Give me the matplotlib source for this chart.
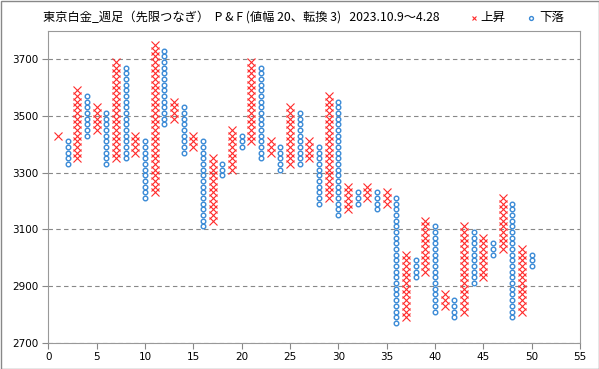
import matplotlib
matplotlib.use('Agg')
from matplotlib import pyplot as plt
from matplotlib.patches import Rectangle

plt.rcParams['font.family'] = ['Noto Sans CJK JP', 'DejaVu Sans']

# P&F columns: odd columns rise (X), even columns fall (O)
col_top = [3430, 3410, 3590, 3570, 3530, 3510, 3690, 3670, 3430, 3410,
           3750, 3730, 3550, 3530, 3430, 3410, 3350, 3330, 3450, 3430,
           3690, 3670, 3410, 3390, 3530, 3510, 3410, 3390, 3570, 3550,
           3250, 3230, 3250, 3230, 3230, 3210, 3010, 2990, 3130, 3110,
           2870, 2850, 3110, 3090, 3070, 3050, 3210, 3190, 3030, 3010]
col_bottom = [3430, 3330, 3350, 3430, 3450, 3330, 3350, 3350, 3370, 3210,
              3230, 3470, 3490, 3370, 3390, 3110, 3130, 3290, 3310, 3390,
              3410, 3350, 3370, 3310, 3330, 3330, 3350, 3190, 3210, 3150,
              3170, 3190, 3210, 3170, 3190, 2770, 2790, 2930, 2950, 2810,
              2830, 2790, 2810, 2910, 2930, 3010, 3030, 2790, 2810, 2970]
box = 20

title = '東京白金_週足（先限つなぎ）  P & F (値幅 20、転換 3)   2023.10.9～4.28'
x_ticks = list(range(0, 56, 5))
y_ticks = list(range(2700, 3701, 200))

red = '#ff2a2a'
blue = '#3a8ad6'

xs_up, ys_up, xs_dn, ys_dn = [], [], [], []
for i, (top, bot) in enumerate(zip(col_top, col_bottom)):
    col = i + 1
    vals = list(range(bot, top + 1, box))
    if i % 2 == 0:
        xs_up += [col] * len(vals)
        ys_up += vals
    else:
        xs_dn += [col] * len(vals)
        ys_dn += vals

fig = plt.figure(figsize=(5.99, 3.69), dpi=100)
ax = fig.add_axes([48.3 / 599, 1 - 342.7 / 369, (580 - 48.3) / 599, (342.7 - 30.7) / 369])

ax.plot(xs_up, ys_up, linestyle='none', marker='x', color=red, markersize=5.4, markeredgewidth=0.8)
ax.plot(xs_dn, ys_dn, linestyle='none', marker='o', markerfacecolor='white', markeredgecolor=blue,
        markersize=3.3, markeredgewidth=1.0)

ax.set_xlim(0, 55)
ax.set_ylim(2700, 3800)
ax.set_xticks(x_ticks)
ax.set_yticks(y_ticks)
ax.tick_params(labelsize=7.5, length=4, width=0.8, color='#888888', pad=3)
for lab in ax.get_xticklabels() + ax.get_yticklabels():
    lab.set_family('DejaVu Sans')
ax.grid(axis='y', color='#888888', linestyle=(0, (4, 3)), linewidth=0.8)
ax.set_axisbelow(True)
for s in ax.spines.values():
    s.set_color('#999999')
    s.set_linewidth(0.8)

fig.text(43 / 599, 1 - 17 / 369, title, fontsize=8.8, va='center', ha='left')

# legend drawn by hand above the plot
lx = fig.add_axes([0, 0, 1, 1], facecolor='none')
lx.set_xlim(0, 599)
lx.set_ylim(369, 0)
lx.axis('off')
lx.plot([474], [18], marker='x', color=red, markersize=3.5, markeredgewidth=0.8, linestyle='none')
lx.text(480, 17, '上昇', fontsize=9, va='center', ha='left')
lx.plot([531], [18], marker='o', markerfacecolor='white', markeredgecolor=blue, markersize=2.8,
        markeredgewidth=1.0, linestyle='none')
lx.text(539, 17, '下落', fontsize=9, va='center', ha='left')

fig.patches.append(Rectangle((0.5 / 599, 0.5 / 369), 598 / 599, 368 / 369, transform=fig.transFigure,
                             fill=False, edgecolor='#888888', linewidth=1.0))

fig.savefig('out.png', dpi=100)
